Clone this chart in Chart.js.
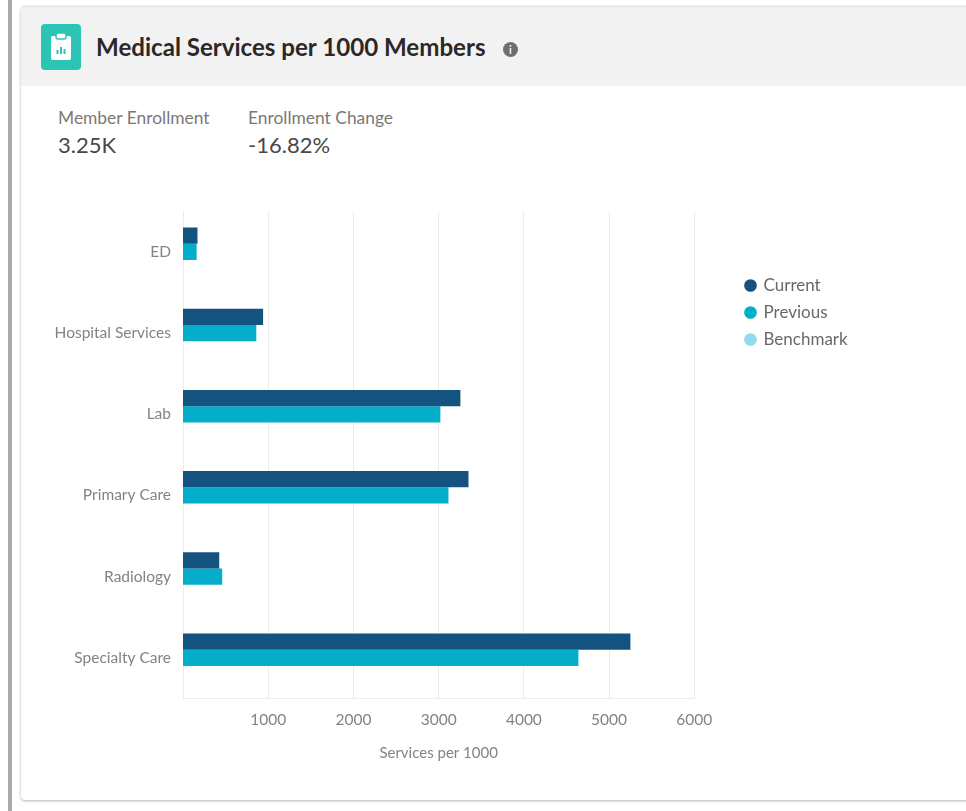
<!DOCTYPE html>
<html>
<head>
<meta charset="utf-8">
<title>Medical Services per 1000 Members</title>
<script src="https://cdn.jsdelivr.net/npm/chart.js@4"></script>
<style>
    html, body { margin: 0; padding: 0; background: #fff; }
    body { width: 966px; height: 811px; overflow: hidden; position: relative; font-family: Lato, sans-serif; }
    .edge { position: absolute; left: 8px; top: 0; width: 4px; height: 811px; background: #a9a9a9; }
    .card { position: absolute; left: 21px; top: 6px; width: 960px; height: 793px; background: #fff; border-top: 1px solid #e2e2e2; border-radius: 4px; box-shadow: 0 1px 3px rgba(0, 0, 0, 0.3); }
    .head { position: absolute; left: 21px; top: 7px; width: 945px; height: 79px; background: #f3f2f2; }
    .icon { position: absolute; left: 41px; top: 24px; width: 40px; height: 46px; background: #2cc5b5; border-radius: 4px; }
    .title { position: absolute; left: 96px; top: 32px; font-size: 24.1px; font-weight: 700; color: #2b2826; white-space: nowrap; }
    .info { position: absolute; left: 503px; top: 42px; width: 15px; height: 15px; border-radius: 50%; background: #706e6b; color: #f3f2f2; font-size: 11px; font-weight: 700; line-height: 15px; text-align: center; }
    .stat { position: absolute; top: 108px; white-space: nowrap; }
    .stat .lbl { font-size: 17.4px; color: #7b7876; line-height: 20px; }
    .stat .val { font-size: 22px; color: #4a4846; line-height: 33px; }
    .wrap { position: absolute; left: 21px; top: 190px; width: 945px; height: 600px; }
</style>
</head>
<body>
<div class="edge"></div>
<div class="card"></div>
<div class="head"></div>
<div class="icon">
    <svg width="40" height="46" viewBox="0 0 40 46">
        <rect x="10" y="12" width="20" height="24" rx="2" fill="#fff"/>
        <rect x="15" y="9" width="10" height="6" rx="2" fill="#fff" stroke="#2cc5b5" stroke-width="1.5"/>
        <rect x="15.5" y="26" width="2" height="4" fill="#2cc5b5"/>
        <rect x="19" y="23" width="2" height="7" fill="#2cc5b5"/>
        <rect x="22.5" y="25" width="2" height="5" fill="#2cc5b5"/>
    </svg>
</div>
<div class="title">Medical Services per 1000 Members</div>
<div class="info">i</div>
<div class="stat" style="left:58px"><div class="lbl">Member Enrollment</div><div class="val">3.25K</div></div>
<div class="stat" style="left:248px"><div class="lbl">Enrollment Change</div><div class="val">-16.82%</div></div>
<div class="wrap"><canvas id="servicesChart"></canvas></div>

<script>
const categories = ['ED', 'Hospital Services', 'Lab', 'Primary Care', 'Radiology', 'Specialty Care'];
const current = [170, 940, 3255, 3350, 425, 5250];
const previous = [160, 860, 3020, 3115, 460, 4640];
const benchmark = [null, null, null, null, null, null];
const xTicks = [1000, 2000, 3000, 4000, 5000, 6000];

const labelColor = '#858381';
const gridColor = '#eeeded';

// the legend sits beside the upper part of the plot, not centred on it
const legendPlacer = {
    id: 'legendPlacer',
    afterLayout(chart) {
        const legend = chart.legend;
        const h = legend.bottom - legend.top;
        const w = legend.right - legend.left;
        legend.left = 715;
        legend.right = legend.left + w;
        legend.top = 77;
        legend.bottom = legend.top + h;
    }
};

const ctx = document.getElementById('servicesChart').getContext('2d');
new Chart(ctx, {
    type: 'bar',
    plugins: [legendPlacer],
    data: {
        labels: categories,
        datasets: [
            { label: 'Current', data: current, backgroundColor: '#14527f' },
            { label: 'Previous', data: previous, backgroundColor: '#04adc9' },
            { label: 'Benchmark', data: benchmark, backgroundColor: '#8fdcef' }
        ]
    },
    options: {
        indexAxis: 'y',
        responsive: true,
        maintainAspectRatio: false,
        animation: false,
        layout: { padding: { top: 6, right: 150, bottom: 27, left: 0 } },
        datasets: { bar: { barPercentage: 1, categoryPercentage: 0.6 } },
        plugins: {
            tooltip: { enabled: false },
            legend: {
                position: 'right',
                align: 'start',
                labels: {
                    usePointStyle: true,
                    pointStyle: 'circle',
                    boxWidth: 9,
                    boxHeight: 9,
                    padding: 10,
                    color: '#6b6967',
                    font: { family: 'Lato', size: 17 }
                }
            }
        },
        scales: {
            x: {
                min: 0,
                max: 6000,
                afterBuildTicks(scale) {
                    scale.ticks = xTicks.map(v => ({ value: v }));
                },
                grid: { color: gridColor, drawTicks: false },
                border: { color: gridColor },
                ticks: {
                    color: labelColor,
                    padding: 12,
                    maxRotation: 0,
                    font: { family: 'Lato', size: 15.5 },
                    callback: value => String(value)
                },
                title: { display: true, text: 'Services per 1000', color: labelColor, padding: { top: 3, bottom: 1 }, font: { family: 'Lato', size: 15 } }
            },
            y: {
                grid: { display: false, drawTicks: false },
                border: { color: gridColor },
                ticks: { color: labelColor, padding: 12, font: { family: 'Lato', size: 15.5 } },
                afterFit(scale) { scale.width = 162; }
            }
        }
    }
});
</script>
</body>
</html>
